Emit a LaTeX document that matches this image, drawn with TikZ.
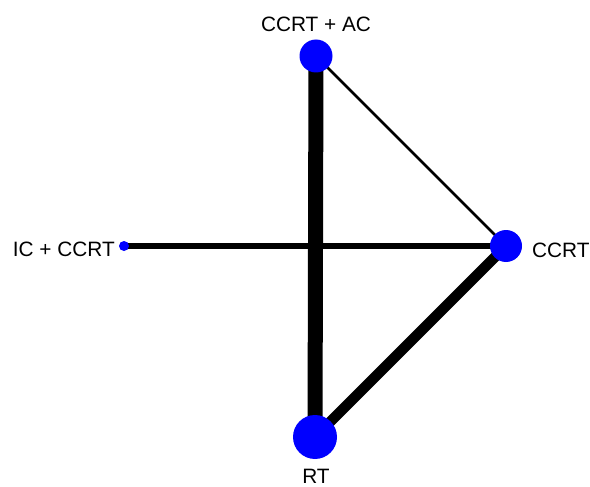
\documentclass[tikz,border=0pt]{standalone}
\usepackage{fontspec}
\setmainfont{Liberation Sans}
\usetikzlibrary{backgrounds}
\definecolor{nodeblue}{RGB}{0,0,255}
\tikzset{
  trt/.style={circle,fill=nodeblue,draw=none,inner sep=0pt,minimum size=#1},
  lbl/.style={inner sep=0pt,font=\fontsize{20.8}{24}\selectfont},
  edge/.style={draw=black,line width=#1}
}
\begin{document}
\begin{tikzpicture}[x=1pt,y=-1pt]
\useasboundingbox (0,0) rectangle (590,487);
\node[trt=33pt] (ac) at (316,56) {};
\node[trt=32pt] (ccrt) at (506,246) {};
\node[trt=10pt] (ic) at (124,246) {};
\node[trt=44pt] (rt) at (315,437) {};
\begin{scope}[on background layer]
\draw[edge=15pt] (ac.center) -- (rt.center);
\draw[edge=2.6pt] (ac.center) -- (ccrt.center);
\draw[edge=6.2pt] (ic.center) -- (ccrt.center);
\draw[edge=10.6pt] (ccrt.center) -- (rt.center);
\end{scope}
\node[lbl,anchor=base] (lac) at (316,32) {CCRT + AC};
\node[lbl,anchor=base west] (lccrt) at (532,257) {CCRT};
\node[lbl,anchor=base east] (lic) at (115,256) {IC + CCRT};
\node[lbl,anchor=base] (lrt) at (316,483.5) {RT};
\end{tikzpicture}
\end{document}
